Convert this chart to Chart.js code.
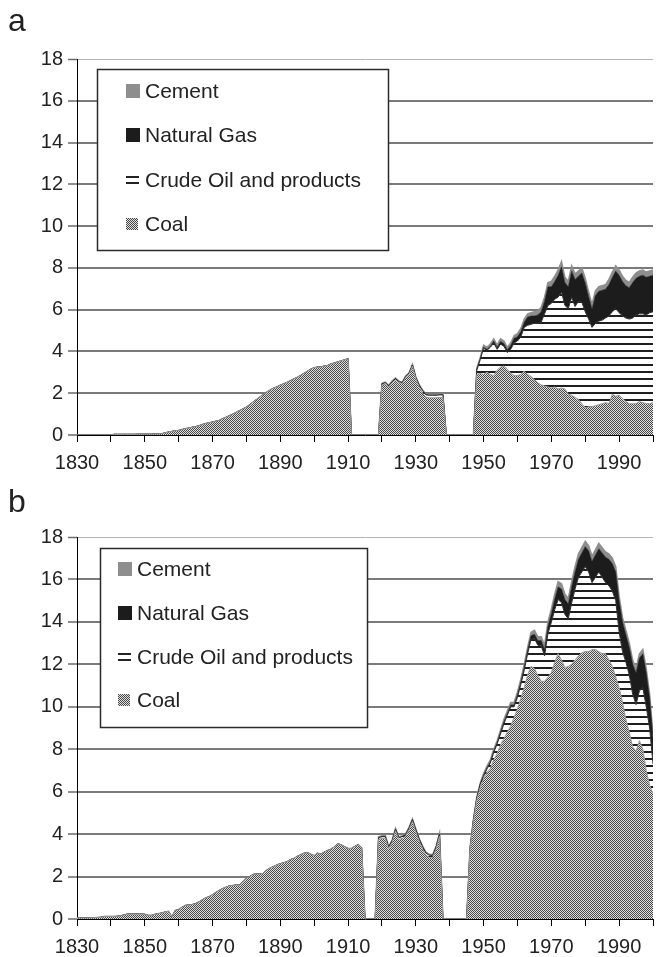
<!DOCTYPE html>
<html>
<head>
<meta charset="utf-8">
<script src="https://cdn.jsdelivr.net/npm/chart.js@4.4.1/dist/chart.umd.min.js"></script>
<style>
html,body{margin:0;padding:0;background:#fff;}
#wrap{position:relative;width:662px;height:957px;overflow:hidden;background:#fff;}
canvas{position:absolute;left:0;}
#ca{top:0;}
#cb{top:478px;}
</style>
</head>
<body>
<div id="wrap">
<canvas id="ca" width="662" height="478"></canvas>
<canvas id="cb" width="662" height="479"></canvas>
</div>
<script>
const years = [
1830,1831,1832,1833,1834,1835,1836,1837,1838,1839,
1840,1841,1842,1843,1844,1845,1846,1847,1848,1849,
1850,1851,1852,1853,1854,1855,1856,1857,1858,1859,
1860,1861,1862,1863,1864,1865,1866,1867,1868,1869,
1870,1871,1872,1873,1874,1875,1876,1877,1878,1879,
1880,1881,1882,1883,1884,1885,1886,1887,1888,1889,
1890,1891,1892,1893,1894,1895,1896,1897,1898,1899,
1900,1901,1902,1903,1904,1905,1906,1907,1908,1909,
1910,1911,1912,1913,1914,1915,1916,1917,1918,1919,
1920,1921,1922,1923,1924,1925,1926,1927,1928,1929,
1930,1931,1932,1933,1934,1935,1936,1937,1938,1939,
1940,1941,1942,1943,1944,1945,1946,1947,1948,1949,
1950,1951,1952,1953,1954,1955,1956,1957,1958,1959,
1960,1961,1962,1963,1964,1965,1966,1967,1968,1969,
1970,1971,1972,1973,1974,1975,1976,1977,1978,1979,
1980,1981,1982,1983,1984,1985,1986,1987,1988,1989,
1990,1991,1992,1993,1994,1995,1996,1997,1998,1999,
2000];

const tickYears = [1830,1850,1870,1890,1910,1930,1950,1970,1990];
const seriesNames = ['Cement','Natural Gas','Crude Oil and products','Coal'];

// ---- Panel a ----
const coalA = [
0,0,0,0,0,0,0,0,0,0,
0,0.03,0.03,0.03,0.03,0.03,0.03,0.03,0.04,0.04,
0.04,0.04,0.04,0.05,0.05,0.06,0.1,0.14,0.17,0.2,
0.22,0.26,0.3,0.33,0.37,0.4,0.44,0.5,0.55,0.58,
0.62,0.66,0.7,0.78,0.85,0.92,1.0,1.08,1.17,1.25,
1.33,1.45,1.58,1.7,1.82,1.94,2.05,2.15,2.24,2.3,
2.38,2.45,2.52,2.6,2.68,2.76,2.85,2.95,3.05,3.15,
3.22,3.25,3.26,3.3,3.33,3.4,3.45,3.5,3.55,3.6,
3.65,0,0,0,0,0,0,0,0,0,
2.4,2.45,2.3,2.5,2.65,2.5,2.45,2.75,2.9,3.3,
2.7,2.3,2.0,1.8,1.78,1.78,1.78,1.8,1.8,0,
0,0,0,0,0,0,0,0,2.9,2.95,
2.9,3.0,2.9,2.85,3.1,3.25,3.3,3.15,2.95,2.85,
2.85,2.9,3.05,2.9,2.8,2.65,2.5,2.4,2.35,2.3,
2.25,2.3,2.2,2.25,2.2,1.95,1.9,1.8,1.7,1.5,
1.3,1.35,1.35,1.4,1.45,1.5,1.55,1.5,1.95,1.85,
1.9,1.75,1.6,1.5,1.5,1.5,1.6,1.55,1.5,1.5,
1.55];

const oilA = [
0,0,0,0,0,0,0,0,0,0,
0,0,0,0,0,0,0,0,0,0,
0,0,0,0,0,0,0,0,0,0,
0,0,0,0,0,0,0,0,0,0,
0,0,0,0,0,0,0,0,0,0,
0,0,0,0,0,0,0,0,0,0,
0,0,0,0,0,0,0,0,0,0,
0,0,0,0,0,0,0,0,0,0,
0,0,0,0,0,0,0,0,0,0,
0.05,0.05,0.05,0.05,0.05,0.05,0.05,0.05,0.05,0.05,
0.05,0.08,0.12,0.12,0.12,0.12,0.12,0.12,0.12,0,
0,0,0,0,0,0,0,0,0.2,0.65,
1.25,1.05,1.3,1.55,1.0,1.1,0.95,0.8,1.15,1.55,
1.65,1.8,2.1,2.35,2.5,2.7,2.85,3.0,3.45,3.9,
4.05,4.2,4.4,4.6,4.0,4.1,4.7,4.35,4.7,4.85,
4.6,4.2,3.8,3.95,4.0,4.0,4.05,4.2,3.95,4.2,
3.95,3.95,4.0,4.05,4.1,4.25,4.2,4.25,4.25,4.35,
4.35];

const gasA = [
0,0,0,0,0,0,0,0,0,0,
0,0,0,0,0,0,0,0,0,0,
0,0,0,0,0,0,0,0,0,0,
0,0,0,0,0,0,0,0,0,0,
0,0,0,0,0,0,0,0,0,0,
0,0,0,0,0,0,0,0,0,0,
0,0,0,0,0,0,0,0,0,0,
0,0,0,0,0,0,0,0,0,0,
0,0,0,0,0,0,0,0,0,0,
0,0,0,0,0,0,0,0,0,0,
0,0,0,0,0,0,0,0,0,0,
0,0,0,0,0,0,0,0,0.05,0.03,
0.05,0.05,0.05,0.1,0.1,0.13,0.13,0.13,0.18,0.23,
0.2,0.25,0.25,0.4,0.4,0.35,0.4,0.5,0.6,0.9,
0.8,0.85,1.05,1.2,1.1,1.05,1.25,1.3,1.2,1.4,
1.38,1.08,0.88,1.33,1.43,1.43,1.38,1.5,1.65,1.8,
1.8,1.65,1.55,1.5,1.7,1.75,1.8,1.85,1.8,1.75,
1.75];

const cementA = [
0,0,0,0,0,0,0,0,0,0,
0,0,0,0,0,0,0,0,0,0,
0,0,0,0,0,0,0,0,0,0,
0,0,0,0,0,0,0,0,0,0,
0,0,0,0,0,0,0,0,0,0,
0,0,0,0,0,0,0,0,0,0,
0,0,0,0,0,0,0,0,0,0,
0,0,0,0,0,0,0,0,0,0,
0,0,0,0,0,0,0,0,0,0,
0.03,0.03,0.03,0.03,0.03,0.03,0.03,0.03,0.03,0.03,
0.03,0.03,0.03,0.03,0.03,0.03,0.03,0.03,0.03,0,
0,0,0,0,0,0,0,0,0.05,0.07,
0.1,0.1,0.1,0.1,0.1,0.12,0.12,0.12,0.12,0.12,
0.15,0.15,0.15,0.15,0.15,0.2,0.2,0.2,0.2,0.2,
0.25,0.25,0.25,0.25,0.25,0.25,0.25,0.25,0.25,0.25,
0.22,0.22,0.22,0.22,0.22,0.22,0.22,0.25,0.25,0.25,
0.25,0.25,0.25,0.25,0.25,0.25,0.25,0.25,0.25,0.25,
0.25];

// ---- Panel b ----
const coalB = [
0.05,0.05,0.05,0.05,0.06,0.06,0.07,0.08,0.12,0.12,
0.12,0.12,0.13,0.15,0.2,0.23,0.23,0.23,0.23,0.23,
0.22,0.17,0.17,0.22,0.25,0.28,0.33,0.36,0.1,0.4,
0.44,0.55,0.64,0.66,0.68,0.72,0.8,0.9,0.99,1.05,
1.14,1.25,1.35,1.43,1.5,1.56,1.58,1.6,1.6,1.75,
1.92,2.0,2.1,2.12,2.12,2.15,2.3,2.4,2.47,2.55,
2.6,2.65,2.7,2.8,2.85,2.95,3.02,3.1,3.13,3.05,
2.98,3.1,3.05,3.15,3.23,3.29,3.4,3.54,3.49,3.4,
3.32,3.32,3.42,3.5,3.35,0,0,0,0,3.75,
3.8,3.8,3.3,3.6,4.15,3.75,3.8,3.9,4.2,4.6,
4.1,3.65,3.3,3.0,2.9,2.9,3.3,3.9,0,0,
0,0,0,0,0,0,3.3,4.6,5.6,6.2,
6.6,6.9,7.1,7.5,7.8,8.2,8.5,8.8,9.1,9.5,
9.9,10.4,10.9,11.5,11.9,11.8,11.5,11.2,11.2,11.4,
11.6,12.1,12.5,12.2,11.85,11.9,12.0,12.2,12.4,12.55,
12.6,12.6,12.7,12.7,12.6,12.5,12.5,12.2,11.9,11.4,
10.9,10.2,9.4,8.8,8.1,7.9,8.4,8.0,7.0,6.3,
5.9];

const oilB = [
0,0,0,0,0,0,0,0,0,0,
0,0,0,0,0,0,0,0,0,0,
0,0,0,0,0,0,0,0,0,0,
0,0,0,0,0,0,0,0,0,0,
0,0,0,0,0,0,0,0,0,0,
0,0,0,0,0,0,0,0,0,0,
0,0,0,0,0,0,0,0,0,0,
0,0,0,0,0,0,0,0,0,0,
0,0,0,0,0,0,0,0,0,0.08,
0.08,0.08,0.08,0.08,0.08,0.08,0.08,0.08,0.08,0.08,
0.1,0.1,0.1,0.1,0.1,0.1,0.1,0.1,0,0,
0,0,0,0,0,0,0.02,0.07,0.08,0.13,
0.12,0.17,0.25,0.35,0.45,0.52,0.7,0.8,0.9,0.5,
0.55,0.65,0.83,1.0,1.27,1.42,1.4,1.67,1.2,2.05,
2.38,2.48,2.55,2.7,2.5,2.25,2.9,3.35,3.7,3.8,
4.0,3.75,3.15,3.4,3.75,3.6,3.35,3.5,3.55,3.6,
2.63,2.4,2.7,2.7,2.5,2.2,2.35,2.9,3.0,2.7,
1.4];

const gasB = [
0,0,0,0,0,0,0,0,0,0,
0,0,0,0,0,0,0,0,0,0,
0,0,0,0,0,0,0,0,0,0,
0,0,0,0,0,0,0,0,0,0,
0,0,0,0,0,0,0,0,0,0,
0,0,0,0,0,0,0,0,0,0,
0,0,0,0,0,0,0,0,0,0,
0,0,0,0,0,0,0,0,0,0,
0,0,0,0,0,0,0,0,0,0,
0,0,0,0,0,0,0,0,0,0,
0,0,0,0,0,0,0,0,0,0,
0,0,0,0,0,0,0,0,0.02,0.02,
0.05,0.05,0.05,0.05,0.05,0.08,0.08,0.08,0.08,0.08,
0.1,0.1,0.12,0.15,0.18,0.2,0.22,0.25,0.3,0.35,
0.4,0.5,0.6,0.65,0.7,0.7,0.75,0.8,0.85,0.9,
0.95,1.0,1.0,1.05,1.1,1.15,1.2,1.25,1.3,1.35,
1.45,1.4,1.3,1.3,1.4,1.5,1.55,1.6,1.6,1.4,
1.2];

const cementB = [
0,0,0,0,0,0,0,0,0,0,
0,0,0,0,0,0,0,0,0,0,
0,0,0,0,0,0,0,0,0,0,
0,0,0,0,0,0,0,0,0,0,
0,0,0,0,0,0,0,0,0,0,
0,0,0,0,0,0,0,0,0,0,
0,0,0,0,0,0,0,0,0,0,
0,0,0,0,0,0,0,0,0,0,
0,0,0,0,0,0,0,0,0,0.04,
0.04,0.04,0.04,0.04,0.04,0.04,0.04,0.04,0.04,0.04,
0.04,0.04,0.04,0.04,0.04,0.04,0.04,0.04,0,0,
0,0,0,0,0,0,0.03,0.03,0.05,0.05,
0.08,0.08,0.1,0.1,0.1,0.1,0.12,0.12,0.12,0.12,
0.15,0.15,0.15,0.15,0.15,0.18,0.18,0.18,0.2,0.2,
0.22,0.22,0.25,0.25,0.25,0.25,0.25,0.25,0.25,0.25,
0.25,0.25,0.25,0.25,0.25,0.25,0.25,0.25,0.25,0.25,
0.22,0.2,0.2,0.2,0.2,0.2,0.2,0.2,0.2,0.2,
0.2];

const FONT = '"Liberation Sans", Arial, Helvetica, sans-serif';
const TEXT = '#222222';
const CEMENT = '#8e8e8e';
const GAS = '#1c1c1c';

function coalPattern(ctx) {
  const c = document.createElement('canvas');
  c.width = 2; c.height = 2;
  const x = c.getContext('2d');
  x.fillStyle = '#dedede'; x.fillRect(0, 0, 2, 2);
  x.fillStyle = '#4a4a4a'; x.fillRect(0, 0, 1, 1); x.fillRect(1, 1, 1, 1);
  return ctx.createPattern(c, 'repeat');
}
function oilPattern(ctx) {
  const c = document.createElement('canvas');
  c.width = 8; c.height = 7;
  const x = c.getContext('2d');
  x.fillStyle = '#ffffff'; x.fillRect(0, 0, 8, 7);
  x.fillStyle = '#1e1e1e'; x.fillRect(0, 0, 8, 2);
  return ctx.createPattern(c, 'repeat');
}

function makeLegendPlugin(cfg) {
  return {
    id: 'panelDecor' + cfg.letter,
    afterDraw(chart) {
      const ctx = chart.ctx;
      ctx.save();
      ctx.fillStyle = TEXT;
      ctx.font = '32px ' + FONT;
      ctx.textAlign = 'left';
      ctx.textBaseline = 'alphabetic';
      ctx.fillText(cfg.letter, 8, cfg.letterY);
      ctx.fillStyle = '#ffffff';
      ctx.fillRect(cfg.x, cfg.y, cfg.w, cfg.h);
      ctx.strokeStyle = '#2a2a2a';
      ctx.lineWidth = 1.5;
      ctx.strokeRect(cfg.x + 0.5, cfg.y + 0.5, cfg.w, cfg.h);
      const coalPat = coalPattern(ctx);
      ctx.font = '21px ' + FONT;
      ctx.textBaseline = 'middle';
      seriesNames.forEach((name, i) => {
        const cy = cfg.rows[i];
        const sx = cfg.sx;
        if (name === 'Cement') {
          ctx.fillStyle = CEMENT; ctx.fillRect(sx, cy - 7, 14, 14);
        } else if (name === 'Natural Gas') {
          ctx.fillStyle = GAS; ctx.fillRect(sx, cy - 7, 14, 14);
        } else if (name === 'Crude Oil and products') {
          ctx.fillStyle = '#222';
          ctx.fillRect(sx, cy - 4, 13, 2);
          ctx.fillRect(sx, cy + 2, 13, 2);
        } else {
          ctx.fillStyle = coalPat; ctx.fillRect(sx, cy - 6, 12, 12);
        }
        ctx.fillStyle = TEXT;
        ctx.fillText(name, cfg.tx, cy + 1);
      });
      ctx.restore();
    }
  };
}

function makeChart(id, series, xAxisHeight, legendCfg) {
  const canvas = document.getElementById(id);
  const ctx = canvas.getContext('2d');
  const pts = arr => years.map((yr, i) => ({ x: yr, y: arr[i] }));
  const common = { pointRadius: 0, pointHoverRadius: 0, tension: 0 };
  return new Chart(ctx, {
    type: 'line',
    data: {
      datasets: [
        Object.assign({ label: 'Coal', data: pts(series.coal), backgroundColor: coalPattern(ctx),
          borderColor: '#9a9a9a', borderWidth: 1, fill: 'origin' }, common),
        Object.assign({ label: 'Crude Oil and products', data: pts(series.oil), backgroundColor: oilPattern(ctx),
          borderColor: '#2a2a2a', borderWidth: 1, fill: '-1' }, common),
        Object.assign({ label: 'Natural Gas', data: pts(series.gas), backgroundColor: GAS,
          borderColor: GAS, borderWidth: 0.5, fill: '-1' }, common),
        Object.assign({ label: 'Cement', data: pts(series.cement), backgroundColor: CEMENT,
          borderColor: CEMENT, borderWidth: 1.5, fill: '-1' }, common)
      ]
    },
    options: {
      responsive: false,
      animation: false,
      events: [],
      layout: { padding: { top: 59, left: 0, right: 0, bottom: 0 } },
      plugins: { legend: { display: false }, tooltip: { enabled: false } },
      scales: {
        x: {
          type: 'linear', min: 1830, max: 2000,
          grid: { drawOnChartArea: false, drawTicks: true, tickLength: 7, tickColor: '#000', lineWidth: 1 },
          border: { display: true, color: '#000', width: 1 },
          ticks: {
            stepSize: 10, autoSkip: false, maxRotation: 0, minRotation: 0, padding: 9,
            color: TEXT, font: { family: FONT, size: 20 },
            callback: v => (tickYears.includes(v) ? String(v) : '')
          },
          afterFit: s => { s.height = xAxisHeight; }
        },
        y: {
          stacked: true, min: 0, max: 18,
          grid: {
            color: c => (c.tick && c.tick.value === 18 ? '#b4b4b4' : (c.tick && c.tick.value === 0 ? 'rgba(0,0,0,0)' : '#7a7a7a')),
            lineWidth: c => (c.tick && c.tick.value === 18 ? 1 : 2),
            tickLength: 9,
            tickColor: '#6a6a6a',
            tickWidth: 1.5
          },
          border: { display: true, color: '#000', width: 1 },
          ticks: { stepSize: 2, padding: 5, color: TEXT, font: { family: FONT, size: 20 } },
          afterFit: s => { s.width = 77; }
        }
      }
    },
    plugins: [makeLegendPlugin(legendCfg)]
  });
}

makeChart('ca', { coal: coalA, oil: oilA, gas: gasA, cement: cementA }, 43,
  { letter: 'a', letterY: 31, x: 97, y: 69, w: 291, h: 181, sx: 126, tx: 145, rows: [91, 135, 180, 224] });
makeChart('cb', { coal: coalB, oil: oilB, gas: gasB, cement: cementB }, 38,
  { letter: 'b', letterY: 34, x: 100, y: 70, w: 267, h: 179, sx: 118, tx: 137, rows: [91, 135, 179, 222] });
</script>
</body>
</html>
